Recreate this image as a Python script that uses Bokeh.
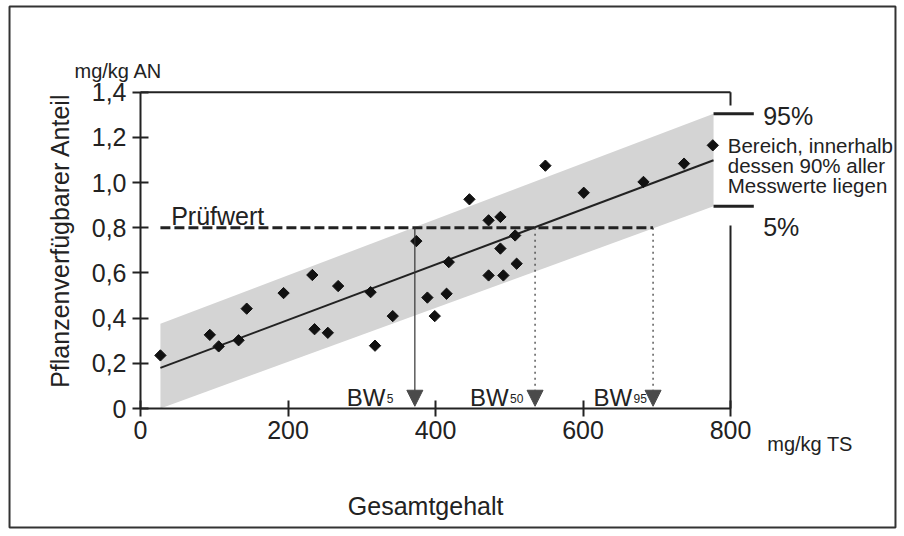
import math
from bokeh.plotting import figure
from bokeh.models import (Range1d, LinearAxis, FixedTicker, CustomJSTickFormatter,
                          Label, Arrow, NormalHead, BoxAnnotation)
from bokeh.embed import file_html
from bokeh.resources import INLINE

# ---------------- data ----------------
total_content = [27, 94, 106, 133, 144, 194, 233, 236, 254, 268, 312, 318, 342,
                 374, 389, 399, 415, 418, 446, 472, 472, 488, 488, 492, 508, 510,
                 549, 601, 682, 737, 776]
plant_available = [0.235, 0.326, 0.275, 0.302, 0.442, 0.511, 0.591, 0.351, 0.335,
                   0.542, 0.515, 0.278, 0.409, 0.741, 0.491, 0.409, 0.508, 0.648,
                   0.926, 0.833, 0.589, 0.848, 0.708, 0.589, 0.766, 0.641, 1.075,
                   0.955, 1.003, 1.084, 1.165]

fit_x = [27, 777]
fit_y = [0.180, 1.099]

band_x = [27, 777]
band_upper = [0.375, 1.305]
band_lower = [-0.02, 0.895]

pruefwert = 0.8
pruefwert_x = [27, 695]

bw_subscripts = ["5", "50", "95"]
bw_values = [372, 535, 695]

x_ticks = [0, 200, 400, 600, 800]
y_ticks = [0, 0.2, 0.4, 0.6, 0.8, 1.0, 1.2, 1.4]

# ---------------- figure ----------------
FONT = "Liberation Sans"
INK = "#222222"

W, H = 900, 532
X0_PX, Y0_PX = 140, 408          # pixel position of the data origin
SX, SY = 0.7375, 225.9           # pixels per data unit

p = figure(width=W, height=H, output_backend="svg", toolbar_location=None,
           x_range=Range1d(-X0_PX / SX, (W - X0_PX) / SX),
           y_range=Range1d(-(H - Y0_PX) / SY, Y0_PX / SY),
           x_axis_type=None, y_axis_type=None,
           min_border=0, min_border_left=0, min_border_right=0,
           min_border_top=0, min_border_bottom=0)
p.outline_line_color = None
p.background_fill_color = "white"
p.border_fill_color = "white"

def style_axis(ax):
    ax.axis_line_color = INK
    ax.axis_line_width = 2
    ax.major_tick_line_color = INK
    ax.major_tick_line_width = 2
    ax.major_tick_in = 8
    ax.major_tick_out = 8
    ax.minor_tick_line_color = None
    ax.major_label_text_font = FONT
    ax.major_label_text_font_size = "25px"
    ax.major_label_text_color = INK

xaxis = LinearAxis(bounds=(x_ticks[0], x_ticks[-1]), ticker=FixedTicker(ticks=x_ticks),
                   fixed_location=y_ticks[0])
style_axis(xaxis)
xaxis.major_label_standoff = 4
p.add_layout(xaxis, "below")

yaxis = LinearAxis(bounds=(y_ticks[0], y_ticks[-1]), ticker=FixedTicker(ticks=y_ticks),
                   fixed_location=x_ticks[0],
                   formatter=CustomJSTickFormatter(
                       code="return tick == 0 ? '0' : tick.toFixed(1).replace('.', ',');"))
style_axis(yaxis)
yaxis.major_label_standoff = 6
p.add_layout(yaxis, "left")

# frame pieces (top and broken right side)
p.line(x=[x_ticks[0], x_ticks[-1]], y=[y_ticks[-1], y_ticks[-1]], line_color=INK, line_width=2)
p.segment(x0=[x_ticks[-1], x_ticks[-1]], y0=[y_ticks[0], 1.341],
          x1=[x_ticks[-1], x_ticks[-1]], y1=[0.81, y_ticks[-1]],
          line_color=INK, line_width=2)

# 90% band (clipped at y = 0)
p.patch(x=band_x + band_x[::-1],
        y=[max(v, 0) for v in band_upper] + [max(v, 0) for v in band_lower[::-1]],
        fill_color="#d4d4d4", line_color=None)

# Pruefwert line
p.line(x=pruefwert_x, y=[pruefwert, pruefwert], line_color=INK, line_width=3,
       line_dash="10 4")

# BW arrows
dashes = ["solid", "dotted", "dotted"]
for xv, dash in zip(bw_values, dashes):
    p.add_layout(Arrow(end=NormalHead(size=16, fill_color="#4a4a4a", line_color="#4a4a4a",
                                      line_width=1),
                       x_start=xv, y_start=pruefwert, x_end=xv, y_end=0.01,
                       line_color="#333333", line_width=1.2, line_dash=dash))

# regression line
p.line(x=fit_x, y=fit_y, line_color=INK, line_width=2)

# data points
p.scatter(x=total_content, y=plant_available, marker="square", angle=math.pi / 4,
          size=8, fill_color="#111111", line_color="#111111")

# bracket bars (95% / 5%)
p.segment(x0=[band_x[-1], band_x[-1]], y0=[band_upper[-1], band_lower[-1]],
          x1=[831.6, 831.6], y1=[band_upper[-1], band_lower[-1]],
          line_color=INK, line_width=3)

def lab(x, y, text, size, align="left", angle=0, xoff=0, yoff=0):
    p.add_layout(Label(x=x, y=y, text=text, text_font=FONT, text_font_size=size,
                       text_color=INK, text_align=align, text_baseline="alphabetic",
                       angle=angle, x_offset=xoff, y_offset=yoff))

# BW labels
bw_dx = [-29.5, -26.5, -21]
for xv, sub, dx in zip(bw_values, bw_subscripts, bw_dx):
    lab(xv, 0.05, "BW", "24px", align="right", xoff=dx)
    lab(xv, 0.043, sub, "12px", align="left", xoff=dx + 1.5)

lab(41.6, 0.854, "Prüfwert", "25px")
lab(844.3, 1.297, "95%", "25px")
lab(844.3, 0.803, "5%", "25px")
lab(796.3, 1.164, "Bereich, innerhalb", "20.5px")
lab(796.3, 1.076, "dessen 90% aller", "20.5px")
lab(796.3, 0.987, "Messwerte liegen", "20.5px")

lab(-89.5, 1.492, "mg/kg AN", "20px")
lab(849.8, -0.156, "mg/kg TS", "20px")
lab(281.1, -0.4294, "Gesamtgehalt", "25px")
lab(-109.8, 0.7437, "Pflanzenverfügbarer Anteil", "25px", align="center", angle=math.pi / 2)

# outer border
p.add_layout(BoxAnnotation(left=-177.6, right=1023.7, bottom=-0.5268, top=1.7795,
                           fill_color=None, fill_alpha=0, line_color="#333333",
                           line_alpha=1.0, line_width=2))

open("out.html", "w").write(file_html(p, INLINE))
